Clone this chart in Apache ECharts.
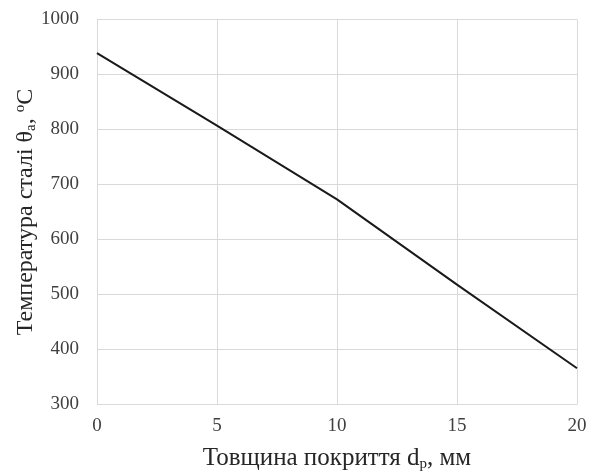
<!DOCTYPE html>
<html>
<head>
<meta charset="utf-8">
<script src="https://cdn.jsdelivr.net/npm/echarts@6/dist/echarts.min.js"></script>
<style>
html,body{margin:0;padding:0;background:#fff;}
#c{width:589px;height:473px;}
</style>
</head>
<body>
<div id="c"></div>
<script>
const thickness = [0, 5, 10, 15, 20];
const steelTemp = [939, 807, 673, 518, 366];
const xTicks = { min: 0, max: 20, interval: 5 };
const yTicks = { min: 300, max: 1000, interval: 100 };

const font = '"Liberation Serif", "Times New Roman", serif';
const chart = echarts.init(document.getElementById('c'));
chart.setOption({
  animation: false,
  backgroundColor: '#fff',
  grid: { left: 97, right: 12, top: 19.5, bottom: 68.5, containLabel: false, outerBoundsMode: 'none' },
  xAxis: {
    type: 'value',
    min: xTicks.min, max: xTicks.max, interval: xTicks.interval,
    name: 'Товщина покриття d{sub|p}, мм',
    nameLocation: 'middle',
    nameGap: 41,
    nameTextStyle: {
      fontFamily: font, fontSize: 25, color: '#262626',
      rich: { sub: { fontFamily: font, fontSize: 15, color: '#262626', padding: [11, 0, 0, 0] } }
    },
    axisLine: { show: false },
    axisTick: { show: false },
    axisLabel: { fontFamily: font, fontSize: 19, color: '#404040', margin: 12 },
    splitLine: { show: true, lineStyle: { color: '#d9d9d9', width: 1 } }
  },
  yAxis: {
    type: 'value',
    min: yTicks.min, max: yTicks.max, interval: yTicks.interval,
    name: 'Температура сталі θ{sub|a}, {sup|o}C',
    nameLocation: 'middle',
    nameRotate: 90,
    nameGap: 58,
    nameMoveOverlap: false,
    nameTextStyle: {
      fontFamily: font, fontSize: 24, color: '#262626',
      rich: {
        sub: { fontFamily: font, fontSize: 15, color: '#262626', padding: [11, 0, 0, 0] },
        sup: { fontFamily: font, fontSize: 15, color: '#262626', padding: [0, 0, 11, 0] }
      }
    },
    axisLine: { show: false },
    axisTick: { show: false },
    axisLabel: { fontFamily: font, fontSize: 19, color: '#404040', margin: 18, formatter: v => String(v) },
    splitLine: { show: true, lineStyle: { color: '#d9d9d9', width: 1 } }
  },
  series: [{
    type: 'line',
    data: thickness.map((x, i) => [x, steelTemp[i]]),
    showSymbol: false,
    lineStyle: { color: '#1a1a1a', width: 2 },
    smooth: false
  }]
});
</script>
</body>
</html>
